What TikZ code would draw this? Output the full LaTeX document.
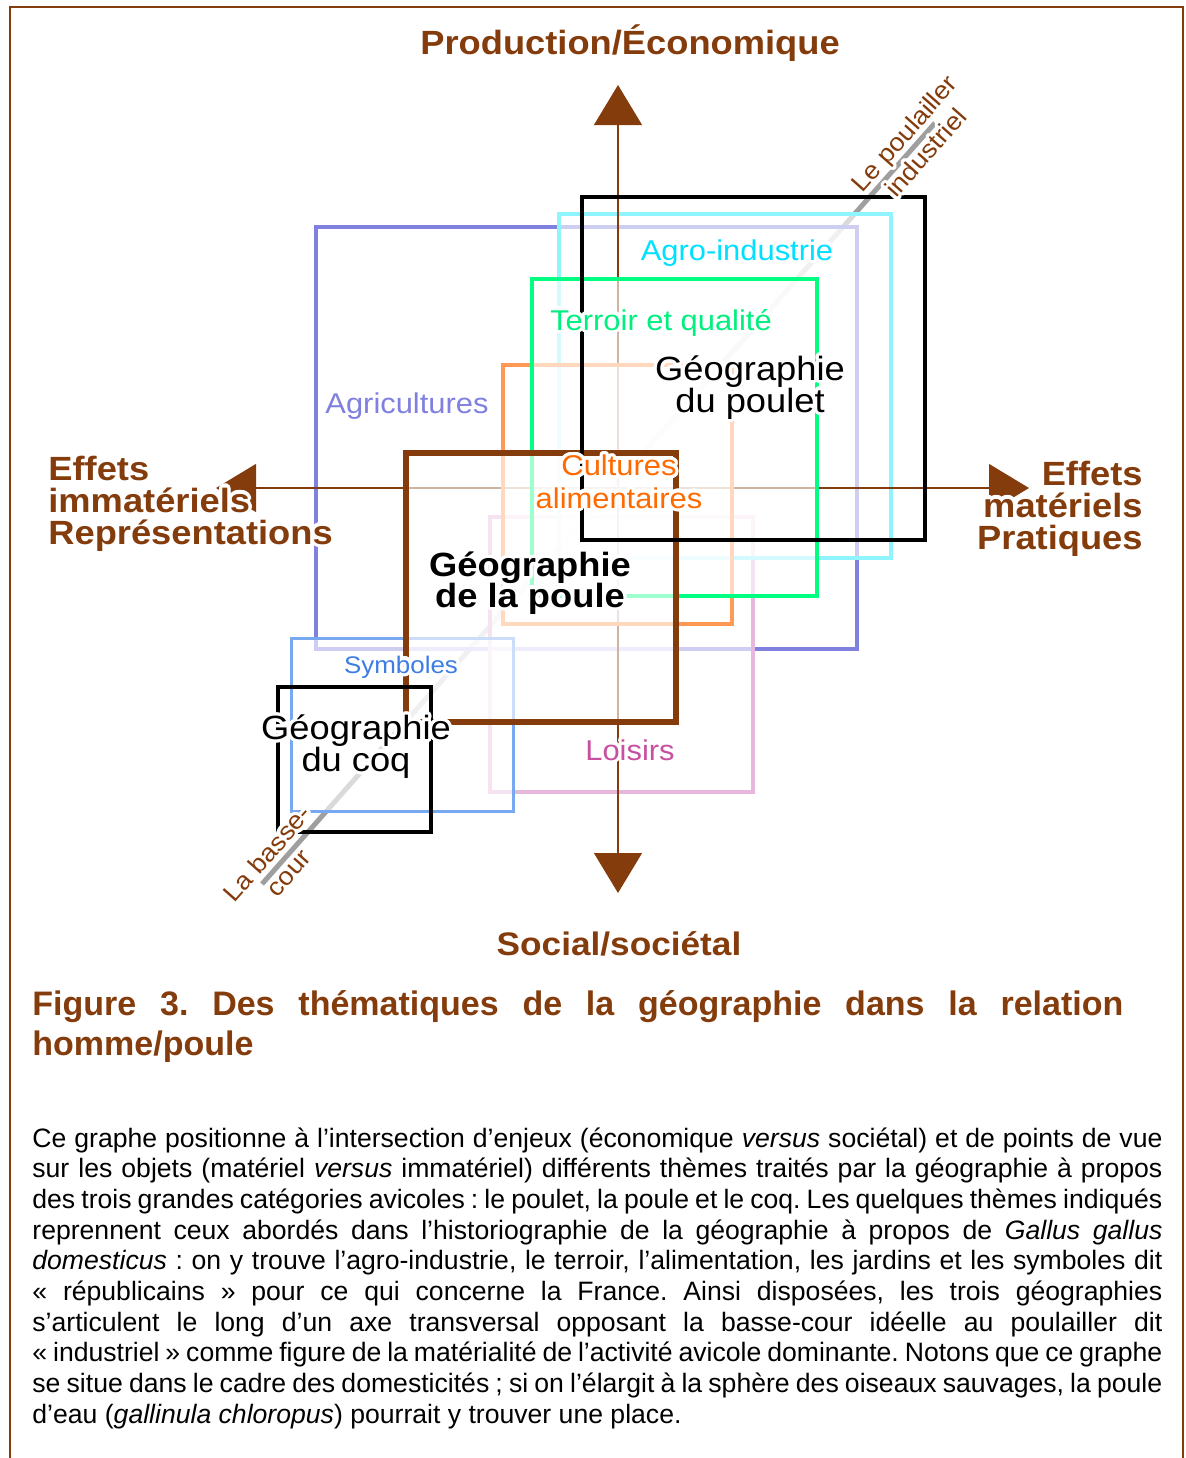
\documentclass[tikz,border=0pt]{standalone}
\usepackage{fontspec}
\setmainfont{Liberation Sans}
\newfontfamily\labfont[FakeStretch=1.08]{Liberation Sans}
\usepackage[copies]{contour}
\contourlength{1.6pt}
\contournumber{24}
\usetikzlibrary{arrows.meta}
\frenchspacing
\lineskiplimit=-\maxdimen

\definecolor{brun}{HTML}{843C0C}
\definecolor{agri}{HTML}{8080E0}
\definecolor{agro}{HTML}{90F4FF}
\definecolor{agrotxt}{HTML}{00E0FF}
\definecolor{terroir}{HTML}{00FF80}
\definecolor{terroirtxt}{HTML}{00F080}
\definecolor{cultures}{HTML}{FF9955}
\definecolor{culturestxt}{HTML}{FF6A00}
\definecolor{loisirs}{HTML}{E8B8DC}
\definecolor{loisirstxt}{HTML}{C850A0}
\definecolor{symb}{HTML}{78A8F0}
\definecolor{symbtxt}{HTML}{3C7DE6}

\newcommand{\halo}[1]{\contour{white}{#1}}

\begin{document}
\begin{tikzpicture}[x=0.5pt, y=-0.5pt,
	zone/.style={line width=2pt, fill=white, fill opacity=0.62},
	geo/.style={draw=black, line width=2.3pt},
	axis/.style={draw=brun, line width=0.6pt, >={Triangle[width=24pt, length=20pt]}},
	bigaxis/.style={text=brun, inner sep=0pt, font={\labfont\bfseries\fontsize{16.8}{16}\selectfont}},
	theme/.style={inner sep=0pt, font={\labfont\fontsize{14.3}{16.3}\selectfont}},
	geotitle/.style={inner sep=0pt, align=center, font={\labfont\fontsize{16.8}{15.75}\selectfont}},
	pole/.style={text=brun, inner sep=0pt, align=center, rotate=48.5, font={\labfont\fontsize{12.5}{14.5}\selectfont}}]

	\useasboundingbox (0,0) rectangle (1186,1458);
	% cadre
	\draw[brun, line width=0.8pt] (10,1458) -- (10,7) -- (1183,7) -- (1183,1458);

	% axe basse-cour / poulailler
	\coordinate (bassecour) at (262,884);
	\coordinate (poulailler) at (935,123);
	\draw[gray!75, line width=2.5pt] (bassecour) -- (poulailler);

	% themes
	\draw[zone, draw=agri, line width=1.8pt] (316,227) rectangle (857,649);
	\draw[zone, draw=loisirs, line width=1.7pt] (490,517) rectangle (753,792);
	\draw[zone, draw=agro, line width=2.2pt] (559,214) rectangle (891,558);

	% axes
	\coordinate (prodTip) at (618,85);
	\coordinate (socTip) at (618,893);
	\coordinate (immTip) at (216,488);
	\coordinate (matTip) at (1029,488);
	\draw[axis, <->] (socTip) -- (prodTip);
	\draw[axis, <->] (immTip) -- (matTip);

	\draw[zone, draw=cultures] (503,365) rectangle (732,624);
	\draw[zone, draw=terroir] (532,279) rectangle (817,596);
	\draw[zone, draw=symb, line width=1.5pt] (291,638) rectangle (513,811);
	\draw[zone, draw=brun, line width=2.8pt] (406,453) rectangle (676,722);

	% geographies
	\draw[geo] (582,197) rectangle (925,540);
	\draw[geo] (278,687) rectangle (431,832);

	% labels
	\node[bigaxis, anchor=base] (prod) at (630,54) {Production/Économique};
	\node[bigaxis, anchor=base, font={\labfont\bfseries\fontsize{16.3}{16}\selectfont}] (soc) at (619,955) {Social/sociétal};
	\node[bigaxis, anchor=base west, align=left] (imm) at (48,544)
		{\halo{Effets}\\\halo{immatériels}\\\halo{Représentations}};
	\node[bigaxis, anchor=base east, align=right] (mat) at (1143,549)
		{\halo{Effets}\\\halo{matériels}\\\halo{Pratiques}};

	\node[theme, text=agri, anchor=base] (agriL) at (407,413) {\halo{Agricultures}};
	\node[theme, text=agrotxt, anchor=base] (agroL) at (737,260) {\halo{Agro-industrie}};
	\node[theme, text=terroirtxt, anchor=base] (terroirL) at (661,330) {\halo{Terroir et qualité}};
	\node[theme, text=culturestxt, anchor=base, align=center] (culturesL) at (619,508)
		{\halo{Cultures}\\\halo{alimentaires}};
	\node[theme, text=loisirstxt, anchor=base] (loisirsL) at (630,760) {\halo{Loisirs}};
	\node[theme, text=symbtxt, anchor=base, font={\labfont\fontsize{12}{14}\selectfont}] (symbL) at (401,673)
		{\halo{Symboles}};

	\node[geotitle, anchor=base] (pouletL) at (750,412) {\halo{Géographie}\\\halo{du poulet}};
	\node[geotitle, anchor=base, font={\labfont\bfseries\fontsize{16.8}{15.2}\selectfont}] (pouleL) at (530,607)
		{\halo{Géographie}\\\halo{de la poule}};
	\node[geotitle, anchor=base] (coqL) at (356,771) {\halo{Géographie}\\\halo{du coq}};

	\node[pole] (poulaillerL) at (916,144) {\halo{Le poulailler}\\\halo{industriel}};
	\node[pole] (bassecourL) at (279,864) {\halo{La basse-}\\\halo{cour}};

	% legende
	\node[anchor=base west, inner sep=0pt, text width=545.5pt, align=justify, text=brun,
		font={\bfseries\fontsize{17}{20}\selectfont}] (legende) at (32,1015)
		{Figure 3. Des thématiques de la géographie dans la relation\linebreak homme/poule};
	\node[anchor=base west, inner sep=0pt, text width=565pt, align=justify,
		font={\fontsize{13.3}{15.35}\selectfont}] (texte) at (32,1147)
		{\hyphenpenalty=10000 \exhyphenpenalty=10000 \tolerance=10000
		Ce graphe positionne à l’intersection d’enjeux (économique \textit{versus} sociétal) et de points de vue\linebreak
		sur les objets (matériel \textit{versus} immatériel) différents thèmes traités par la géographie à propos\linebreak
		des trois grandes catégories avicoles~: le poulet, la poule et le coq. Les quelques thèmes indiqués\linebreak
		reprennent ceux abordés dans l’historiographie de la géographie à propos de \textit{Gallus gallus}\linebreak
		\textit{domesticus}~: on y trouve l’agro-industrie, le terroir, l’alimentation, les jardins et les symboles dit\linebreak
		«~républicains~» pour ce qui concerne la France. Ainsi disposées, les trois géographies\linebreak
		s’articulent le long d’un axe transversal opposant la basse-cour idéelle au poulailler dit\linebreak
		«~industriel~» comme figure de la matérialité de l’activité avicole dominante. Notons que ce graphe\linebreak
		se situe dans le cadre des domesticités~; si on l’élargit à la sphère des oiseaux sauvages, la poule\linebreak
		d’eau (\textit{gallinula chloropus}) pourrait y trouver une place.};
\end{tikzpicture}
\end{document}
